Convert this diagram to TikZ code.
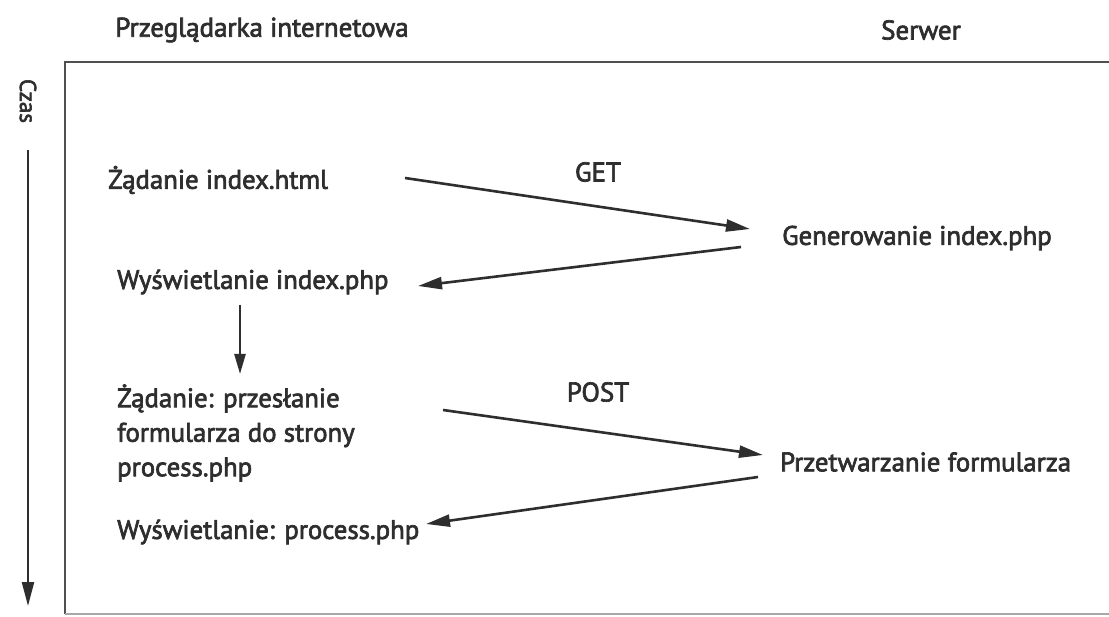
\documentclass[tikz,border=0pt]{standalone}
\usepackage{fontspec}
\setmainfont{PT Sans}
\newfontfamily\heavyfont[FakeBold=2.5]{PT Sans}
\usetikzlibrary{arrows.meta}
\definecolor{ink}{HTML}{2E2E2E}
\definecolor{frame}{HTML}{505050}
\tikzset{
  lbl/.style={anchor=west, inner sep=0pt, text=ink, font=\heavyfont\fontsize{26.8}{32}\selectfont},
  hdr/.style={anchor=center, inner sep=0pt, text=ink, font=\heavyfont\fontsize{27}{32}\selectfont},
  msg/.style={anchor=center, inner sep=0pt, text=ink, font=\heavyfont\fontsize{27}{32}\selectfont},
  arr/.style={draw=ink, line width=2.6pt, -{Triangle[length=24pt,width=12pt]}},
}
\begin{document}
\begin{tikzpicture}[x=1pt,y=-1pt]
\useasboundingbox (0,0) rectangle (1109,617);
\fill[white] (0,0) rectangle (1109,617);
% frame
\draw[frame, line width=2.2pt] (1109,62) -- (65,62) -- (65,614);
\draw[frame!50, line width=1.5pt] (65,614) -- (1109,614);
% headers
\node[hdr] (browser) at (262,30) {Przeglądarka internetowa};
\node[hdr] (server) at (921,30) {Serwer};
% time axis
\node[hdr, rotate=-90, font=\heavyfont\fontsize{23}{27}\selectfont] (time) at (28,101) {Czas};
\coordinate (t0) at (28,150);
\coordinate (t1) at (28,606);
\draw[arr, line width=2.4pt] (t0) -- (t1);
% browser side
\node[lbl] (req1) at (108,180) {Żądanie index.html};
\node[lbl] (disp1) at (117,282) {Wyświetlanie index.php};
\node[lbl, align=left, font=\heavyfont\fontsize{26.8}{34.5}\selectfont] (req2) at (117,433) {Żądanie: przesłanie\\formularza do strony\\process.php};
\node[lbl] (disp2) at (117,532) {Wyświetlanie: process.php};
% server side
\node[lbl] (gen) at (782,238) {Generowanie index.php};
\node[lbl] (proc) at (780,462) {Przetwarzanie formularza};
% method labels
\node[msg] (get) at (598,172) {GET};
\node[msg] (post) at (598,392) {POST};
% connector end points
\coordinate (a1s) at (405,178);
\coordinate (a1e) at (750,229);
\coordinate (a2s) at (741,247);
\coordinate (a2e) at (418,286);
\coordinate (a3s) at (443,410);
\coordinate (a3e) at (763,455);
\coordinate (a4s) at (758,477);
\coordinate (a4e) at (426,524);
\coordinate (v1s) at (240,305);
\coordinate (v1e) at (240,374);
\draw[arr] (a1s) -- (a1e);
\draw[arr] (a2s) -- (a2e);
\draw[arr] (a3s) -- (a3e);
\draw[arr] (a4s) -- (a4e);
\draw[arr, line width=2.4pt, -{Triangle[length=20pt,width=11pt]}] (v1s) -- (v1e);
\end{tikzpicture}
\end{document}
